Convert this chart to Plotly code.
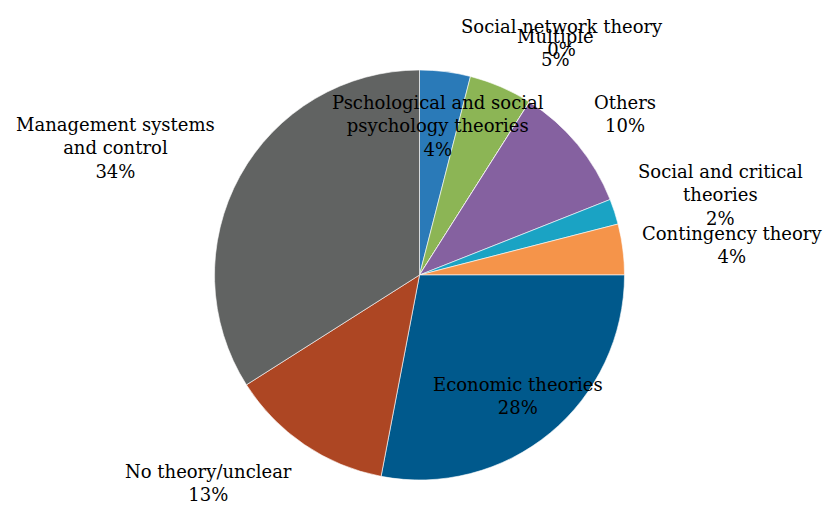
import plotly.graph_objects as go

labels = ["Pschological and social<br>psychology theories", "Multiple", "Social network theory",
          "Others", "Social and critical<br>theories", "Contingency theory",
          "Economic theories", "No theory/unclear", "Management systems<br>and control"]
values = [4, 5, 0, 10, 2, 4, 28, 13, 34]
colors = ["#2a7ab8", "#8cb555", "#4f81bd", "#8561a0", "#1aa3c4", "#f5944a",
          "#00598c", "#ad4623", "#616362"]

# label centre positions in window pixels (style only)
label_pos = [(438, 126), (555, 48), (562, 38), (625, 114), (720, 195),
             (732, 245), (518, 396), (208, 483), (115, 148)]

OFF = 8  # page body margin
W, H = 832 - OFF, 508 - OFF
cx, cy, r = 419.5 - OFF, 275 - OFF, 205
fig = go.Figure(go.Pie(
    labels=labels, values=values, sort=False, direction="clockwise", rotation=0,
    marker=dict(colors=colors, line=dict(color="white", width=0.6)),
    textinfo="none", hoverinfo="label+percent", showlegend=False,
    domain=dict(x=[(cx - r) / W, (cx + r) / W], y=[1 - (cy + r) / H, 1 - (cy - r) / H]),
))

total = sum(values)
for lab, v, (px, py) in zip(labels, values, label_pos):
    fig.add_annotation(
        x=(px - OFF) / W, y=1 - (py - OFF) / H, xref="paper", yref="paper",
        text=f"{lab}<br>{round(100 * v / total)}%", showarrow=False,
        xanchor="center", yanchor="middle", align="center",
        font=dict(family="DejaVu Serif", size=18, color="black"),
    )

fig.update_layout(width=W, height=H, margin=dict(l=0, r=0, t=0, b=0),
                  paper_bgcolor="white", plot_bgcolor="white")
fig.write_html("out.html")
